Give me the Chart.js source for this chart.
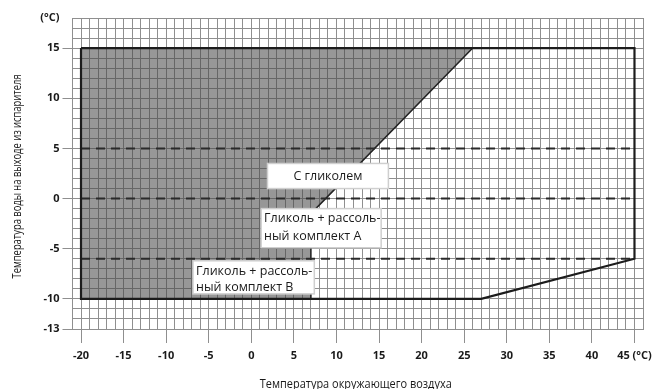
<!DOCTYPE html>
<html>
<head>
<meta charset="utf-8">
<script src="https://cdn.jsdelivr.net/npm/chart.js@4/dist/chart.umd.min.js"></script>
<style>
  html, body { margin: 0; padding: 0; background: #fff; }
  #wrap { width: 657px; height: 389px; position: relative; }
</style>
</head>
<body>
<div id="wrap"><canvas id="chart"></canvas></div>
<script>
// Axis ranges and labelled ticks
const xRange = [-21, 46];
const yRange = [-13, 18];
const xLabelValues = [-20, -15, -10, -5, 0, 5, 10, 15, 20, 25, 30, 35, 40, 45];
const yLabelValues = [15, 10, 5, 0, -5, -10, -13];
const xTitle = 'Температура окружающего воздуха';
const yTitle = 'Температура воды на выходе из испарителя';

// Operating envelope (outer black outline)
const envelopeX = [-20, 45, 45, 27, -20, -20];
const envelopeY = [15, 15, -6, -10, -10, 15];

// Grey area (water only, no glycol)
const greyX = [-20, 26, 7, 7, -20, -20];
const greyY = [15, 15, -1.5, -10, -10, 15];

// Dashed limits
const dashLevels = [5, 0, -6];
const dashX = [-20, 45];

// Label boxes (data coordinates)
const notes = [
    { x0: 1.9, x1: 16.1, y0: 3.5, y1: 1.0, align: 'center', lines: ['С гликолем'], ly: [2.2] },
    { x0: 1.15, x1: 15.25, y0: -1.0, y1: -4.9, align: 'left', lines: ['Гликоль + рассоль-', 'ный комплект А'], ly: [-2.0, -3.75] },
    { x0: -6.85, x1: 7.4, y0: -6.2, y1: -9.5, align: 'left', lines: ['Гликоль + рассоль-', 'ный комплект В'], ly: [-7.3, -8.9] }
];

const toPts = (xs, ys) => xs.map((x, i) => ({ x, y: ys[i] }));

const notesPlugin = {
    id: 'notes',
    afterDatasetsDraw(chart) {
        const { ctx, scales: { x, y } } = chart;
        notes.forEach(n => {
            const l = x.getPixelForValue(n.x0), r = x.getPixelForValue(n.x1);
            const t = y.getPixelForValue(n.y0), b = y.getPixelForValue(n.y1);
            ctx.save();
            ctx.fillStyle = '#ffffff';
            ctx.fillRect(l, t, r - l, b - t);
            ctx.strokeStyle = '#cfcfcf';
            ctx.lineWidth = 1.5;
            ctx.strokeRect(l, t, r - l, b - t);
            ctx.fillStyle = '#1a1a1a';
            ctx.font = '12.5px "Open Sans", sans-serif';
            ctx.textBaseline = 'middle';
            ctx.textAlign = n.align;
            const tx = n.align === 'center' ? (l + r) / 2 : l + 3;
            n.lines.forEach((s, i) => ctx.fillText(s, tx, y.getPixelForValue(n.ly[i])));
            ctx.restore();
        });
    }
};

// axis titles in a narrow face (squeezed horizontally)
function drawNarrow(ctx, text, cx, cy, rot, size, width) {
    ctx.save();
    ctx.font = size + 'px "Open Sans", sans-serif';
    const w = ctx.measureText(text).width;
    ctx.translate(cx, cy);
    ctx.rotate(rot);
    ctx.scale(Math.min(1, width / w), 1);
    ctx.textAlign = 'center';
    ctx.textBaseline = 'middle';
    ctx.fillStyle = '#1a1a1a';
    ctx.fillText(text, 0, 0);
    ctx.restore();
}

const titlesPlugin = {
    id: 'axisTitles',
    afterDraw(chart) {
        const { ctx, chartArea: a } = chart;
        drawNarrow(ctx, xTitle, (a.left + a.right) / 2 - 2, 384, 0, 12.5, 192);
        drawNarrow(ctx, yTitle, 17, (a.top + a.bottom) / 2 + 3, -Math.PI / 2, 12.5, 204);
    }
};

const datasets = [
    {
        data: toPts(envelopeX, envelopeY),
        borderColor: '#1c1c1c', borderWidth: 2.2, fill: false, order: 0
    },
    ...dashLevels.map(v => ({
        data: toPts(dashX, dashX.map(() => v)),
        borderColor: '#2a2a2a', borderWidth: 2, borderDash: [9, 6], fill: false, order: 1
    })),
    {
        data: toPts(greyX, greyY),
        borderColor: '#222', borderWidth: 1.5, fill: 'shape',
        backgroundColor: 'rgba(70,70,70,0.56)', order: 2
    }
];
datasets.forEach(d => { d.showLine = true; d.pointRadius = 0; d.tension = 0; });

new Chart(document.getElementById('chart'), {
    type: 'scatter',
    data: { datasets },
    options: {
        responsive: true,
        maintainAspectRatio: false,
        animation: false,
        layout: { padding: { top: 18, right: 14, left: 0, bottom: 0 } },
        plugins: { legend: { display: false }, tooltip: { enabled: false } },
        scales: {
            x: {
                type: 'linear', min: xRange[0], max: xRange[1],
                afterFit: s => { s.height = 60; },
                grid: {
                    color: '#8f8f8f', lineWidth: 1, tickLength: 14,
                    tickColor: c => xLabelValues.includes(c.tick.value) ? '#8f8f8f' : 'rgba(0,0,0,0)'
                },
                border: { color: '#8f8f8f' },
                ticks: {
                    stepSize: 1, autoSkip: false, maxRotation: 0, maxTicksLimit: 200, padding: 6,
                    color: '#1a1a1a', font: { family: '"Open Sans"', size: 11, weight: 'bold' },
                    callback: v => xLabelValues.includes(v) ? (v === 45 ? '45 (°C)' : String(v)) : ''
                }
            },
            y: {
                type: 'linear', min: yRange[0], max: yRange[1],
                afterFit: s => { s.width = 72.5; },
                grid: {
                    color: '#8f8f8f', lineWidth: 1, tickLength: 10,
                    tickColor: c => yLabelValues.includes(c.tick.value) ? '#8f8f8f' : 'rgba(0,0,0,0)'
                },
                border: { color: '#8f8f8f' },
                ticks: {
                    stepSize: 1, autoSkip: false, maxTicksLimit: 200, padding: 3,
                    color: '#1a1a1a', font: { family: '"Open Sans"', size: 11, weight: 'bold' },
                    callback: v => v === yRange[1] ? '(°C)' : (yLabelValues.includes(v) ? String(v) : '')
                }
            }
        }
    },
    plugins: [notesPlugin, titlesPlugin]
});
</script>
</body>
</html>
